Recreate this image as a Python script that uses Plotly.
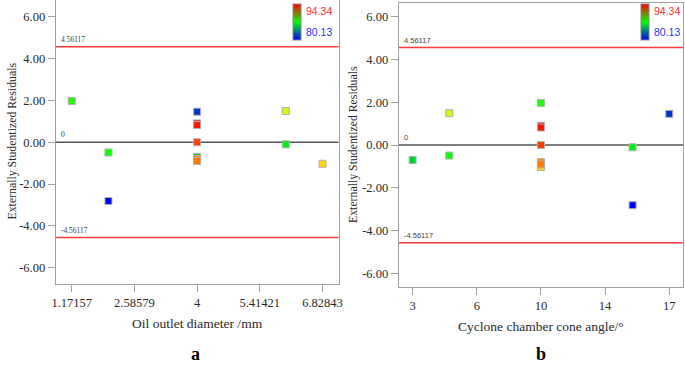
import plotly.graph_objects as go

# ---------------- data ----------------
oil_diameter = [1.17157, 2, 2, 4, 4, 6, 6, 6.82843, 4, 4, 4, 4, 4]
cone_angle = [10, 5, 15, 17, 3, 5, 15, 10, 10, 10, 10, 10, 10]
residuals = [1.97, -0.49, -2.81, 1.46, -0.70, 1.49, -0.10, -1.03, 0.90, 0.82, 0.00, -0.80, -0.90]
response = [87.66, 87.38, 80.13, 81.55, 86.10, 90.08, 86.80, 91.36, 94.34, 94.05, 93.49, 92.49, 92.63]
limit = 4.56117

x1_tickvals = [1.17157, 2.58579, 4, 5.41421, 6.82843]
x1_ticktext = ["1.17157", "2.58579", "4", "5.41421", "6.82843"]
x2_tickvals = [3, 6.5, 10, 13.5, 17]
x2_ticktext = ["3", "6", "10", "14", "17"]
y_tickvals = [-6, -4, -2, 0, 2, 4, 6]
y_ticktext = ["-6.00", "-4.00", "-2.00", "0.00", "2.00", "4.00", "6.00"]

x1_title = "Oil outlet diameter /mm"
x2_title = "Cyclone chamber cone angle/°"
y_title = "Externally Studentized Residuals"
panel_labels = ["a", "b"]

rmin, rmax = min(response), max(response)

point_scale = [[0, "#0000ff"], [0.5, "#00ff00"], [0.75, "#ffff00"], [1, "#ff0000"]]
bar_scale = [[0, "#0000ff"], [0.5, "#00ff00"], [1, "#ff0000"]]

SERIF = "Liberation Serif"
SANS = "Liberation Sans"
W, H = 685, 365

fig = go.Figure()


def add_points(xvals, xa, ya):
    fig.add_trace(go.Scatter(
        x=xvals, y=residuals, xaxis=xa, yaxis=ya, mode="markers",
        marker=dict(symbol="square", size=7, color=response, colorscale=point_scale,
                    cmin=rmin, cmax=rmax, showscale=False,
                    line=dict(color="#b0b0b0", width=1)),
        showlegend=False, hoverinfo="x+y"))


add_points(oil_diameter, "x", "y")
add_points(cone_angle, "x2", "y2")


def add_colorbar(xa, ya, xpix):
    fig.add_trace(go.Scatter(
        x=[None], y=[None], xaxis=xa, yaxis=ya, mode="markers",
        marker=dict(color=[rmin, rmax], colorscale=bar_scale, cmin=rmin, cmax=rmax,
                    showscale=True,
                    colorbar=dict(x=xpix / W, xanchor="left", xpad=0, ypad=0,
                                  y=1 - 4 / H, yanchor="top", len=36, lenmode="pixels",
                                  thickness=8, thicknessmode="pixels",
                                  outlinecolor="#888888", outlinewidth=1,
                                  showticklabels=False, ticks="")),
        showlegend=False, hoverinfo="skip"))


add_colorbar("x", "y", 292.5)
add_colorbar("x2", "y2", 641)

axis_common = dict(showgrid=False, zeroline=False, showline=True, mirror=True, automargin=False,
                   linecolor="#a0a0a0", linewidth=1, ticks="outside", ticklen=7,
                   tickcolor="#a0a0a0", tickfont=dict(family=SERIF, size=12.5, color="#2a2a2a"))
xtitle_font = dict(family=SERIF, size=13.5, color="#2a2a2a")
ytitle_font = dict(family=SERIF, size=11.8, color="#2a2a2a")

fig.update_layout(
    width=W, height=H, margin=dict(l=0, r=0, t=0, b=0, autoexpand=False),
    paper_bgcolor="white", plot_bgcolor="white",
    xaxis=dict(axis_common, domain=[55.7 / W, 338.5 / W], range=[0.81, 7.19],
               tickvals=x1_tickvals, ticktext=x1_ticktext, anchor="y",
               title=dict(text=x1_title, font=xtitle_font, standoff=9)),
    yaxis=dict(axis_common, domain=[1 - 284 / H, 1.0], range=[-6.78, 6.8],
               tickvals=y_tickvals, ticktext=y_ticktext, anchor="x"),
    xaxis2=dict(axis_common, domain=[398.7 / W, 683 / W], range=[2.24, 17.75],
                tickvals=x2_tickvals, ticktext=x2_ticktext, anchor="y2",
                title=dict(text=x2_title, font=xtitle_font, standoff=9)),
    yaxis2=dict(axis_common, domain=[1 - 287.3 / H, 1 - 3.3 / H], range=[-6.65, 6.63],
                tickvals=y_tickvals, ticktext=y_ticktext, anchor="x2"),
)

# y-axis titles placed as rotated text beside the tick labels
for xpix, ypix in [(11.5, 141), (353, 144)]:
    fig.add_annotation(xref="paper", yref="paper", x=xpix / W, y=1 - ypix / H, text=y_title,
                       textangle=-90, showarrow=False, xanchor="center", yanchor="middle",
                       font=ytitle_font)

# reference lines and their labels
for xa, ya, fam in [("x", "y", SERIF), ("x2", "y2", SANS)]:
    for val, col in [(limit, "#ff3b3b"), (-limit, "#ff3b3b"), (0, "#555555")]:
        fig.add_shape(type="line", xref=f"{xa} domain", yref=ya, x0=0, x1=1, y0=val, y1=val,
                      line=dict(color=col, width=1.5), layer="below")
    for val, txt in [(limit, f"{limit:.5f}"), (-limit, f"{-limit:.5f}"), (0, "0")]:
        fig.add_annotation(xref=f"{xa} domain", yref=ya, x=0.012, y=val, text=txt,
                           showarrow=False, xanchor="left", yanchor="bottom", yshift=1,
                           font=dict(family=fam, size=7.5, color="#444444"))

# colour legend labels
for xpix in [303.5, 652]:
    fig.add_annotation(xref="paper", yref="paper", x=xpix / W, y=1 - 10.7 / H,
                       text=f"{rmax:.2f}", showarrow=False, xanchor="left", yanchor="middle",
                       font=dict(family=SANS, size=10.5, color="#ff3030"))
    fig.add_annotation(xref="paper", yref="paper", x=xpix / W, y=1 - 32.3 / H,
                       text=f"{rmin:.2f}", showarrow=False, xanchor="left", yanchor="middle",
                       font=dict(family=SANS, size=10.5, color="#3030ff"))

# panel labels
for xpix, lab in zip([195, 541], panel_labels):
    fig.add_annotation(xref="paper", yref="paper", x=xpix / W, y=0, text=f"<b>{lab}</b>",
                       showarrow=False, xanchor="center", yanchor="bottom", borderpad=0,
                       font=dict(family=SERIF, size=18, color="#000000"))

fig.write_html("out.html", config={"displayModeBar": False},
               post_script="document.body.style.margin='0';document.body.style.overflow='hidden';")
